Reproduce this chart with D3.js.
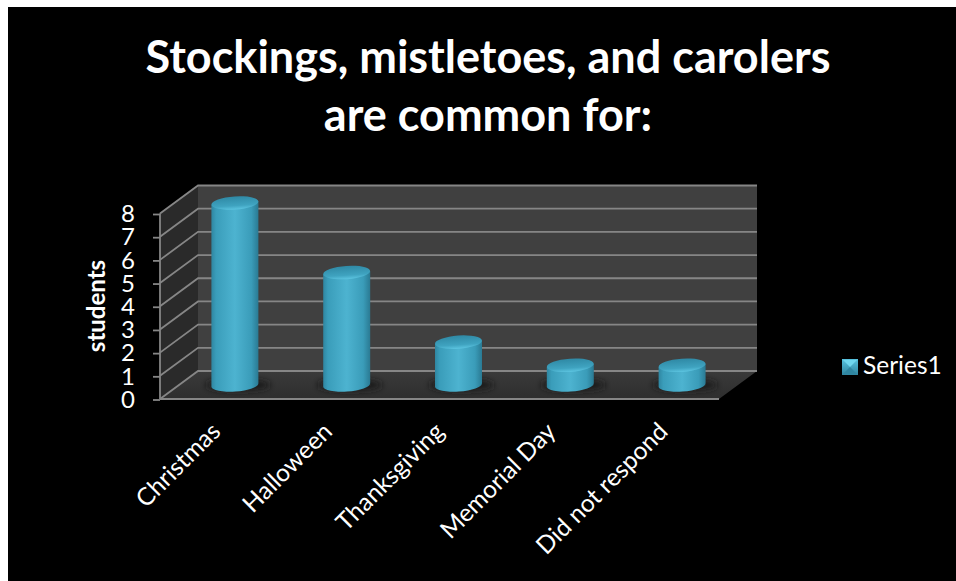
<!DOCTYPE html>
<html><head><meta charset="utf-8">
<script src="https://cdn.jsdelivr.net/npm/d3@7"></script>
<style>html,body{margin:0;padding:0;background:#fff}svg{display:block}text{font-family:Lato,"Open Sans",sans-serif}</style>
</head><body><svg id="c" width="956" height="581"></svg>
<script>
const titleLines = ["Stockings, mistletoes, and carolers", "are common for:"];
const categories = ["Christmas", "Halloween", "Thanksgiving", "Memorial Day", "Did not respond"];
const values = [8, 5, 2, 1, 1];
const yTicks = [0, 1, 2, 3, 4, 5, 6, 7, 8];
const yTitle = "students";
const seriesName = "Series1";

const svg = d3.select("#c");
const defs = svg.append("defs");
const body = defs.append("linearGradient").attr("id", "body");
[[0,"#2f86a1"],[.1,"#3a9dba"],[.5,"#4db3d0"],[.85,"#3a9cb9"],[1,"#2a7a93"]]
  .forEach(([o,c]) => body.append("stop").attr("offset", o).attr("stop-color", c));
const cap = defs.append("linearGradient").attr("id", "cap").attr("x1",0).attr("x2",0).attr("y1",0).attr("y2",1);
[[0,"#2f89a5"],[.7,"#3fa3c0"],[1,"#5cc4e0"]].forEach(([o,c]) => cap.append("stop").attr("offset", o).attr("stop-color", c));
const fl = defs.append("linearGradient").attr("id", "floor").attr("x1",0).attr("x2",0).attr("y1",0).attr("y2",1);
[[0,"#3a3a3a"],[1,"#2e2e2e"]].forEach(([o,c]) => fl.append("stop").attr("offset", o).attr("stop-color", c));
defs.append("filter").attr("id", "blur").attr("x","-30%").attr("y","-100%").attr("width","160%").attr("height","300%")
  .append("feGaussianBlur").attr("stdDeviation", 3);
const lg = defs.append("linearGradient").attr("id", "lg").attr("x1",0).attr("x2",0).attr("y1",0).attr("y2",1);
[[0,"#58c3df"],[1,"#2f85a0"]].forEach(([o,c]) => lg.append("stop").attr("offset", o).attr("stop-color", c));

svg.append("rect").attr("x", 8).attr("y", 7).attr("width", 948).attr("height", 574).attr("fill", "#000");

svg.append("g").selectAll("text").data(titleLines).join("text")
  .attr("x", 488).attr("y", (d, i) => 73 + i * 58).attr("text-anchor", "middle")
  .attr("font-size", 45).attr("font-weight", 700).attr("fill", "#fff").text(d => d);

const x0 = 160, x1 = 719, dx = 38, dy = -28;
const x = d3.scaleBand().domain(categories).range([x0 + 19, x1 + 19]);
const y = d3.scaleLinear().domain([0, 8]).range([399, 213.5]);
const yb = 399, yt = y(8);

// walls
svg.append("path").attr("fill", "#2a2a2a")
  .attr("d", d3.line()([[x0,yb],[x0+dx,yb+dy],[x0+dx,yt+dy],[x0,yt]]));
svg.append("rect").attr("x", x0+dx).attr("y", yt+dy).attr("width", x1-x0).attr("height", yb-yt).attr("fill", "#404040");
svg.append("path").attr("fill", "url(#floor)")
  .attr("d", d3.line()([[x0,yb],[x0+dx,yb+dy],[x1+dx,yb+dy],[x1,yb]]));

// gridlines
const grid = svg.append("g").attr("fill","none").attr("stroke","#868686").attr("stroke-width",1.8);
grid.selectAll("path").data(yTicks).join("path")
  .attr("d", t => d3.line()([[x0,y(t)],[x0+dx,y(t)+dy],[x1+dx,y(t)+dy]]));
grid.append("path").attr("d", d3.line()([[x0,yb],[x1,yb]]));
grid.append("path").attr("d", d3.line()([[x0,yb],[x0,yt]]));

// y axis
const ax = svg.append("g").attr("transform", `translate(${x0},0.5)`)
  .call(d3.axisLeft(y).tickValues(yTicks).tickFormat(d3.format("d")).tickSize(7).tickPadding(18));
ax.select(".domain").remove();
ax.selectAll("line").attr("stroke","#868686").attr("stroke-width",1.8);
ax.selectAll("text").attr("font-size",24).attr("fill","#fff").style("font-family","Lato");

svg.append("text").attr("transform","translate(105,306) rotate(-90)").attr("text-anchor","middle")
  .attr("font-size",24).attr("font-weight",700).attr("fill","#fff").text(yTitle);

// cylinders
const rx = 23.5, ry = 6.6, tilt = -4;
const bars = svg.append("g").selectAll("g").data(values).join("g")
  .attr("transform", (d,i) => `translate(${x(categories[i]) + x.bandwidth()/2},0)`);
bars.append("ellipse").attr("cx", 3).attr("cy", yb-14).attr("rx", rx+9).attr("ry", 6)
  .attr("fill","#1a1a1a").attr("filter","url(#blur)");
bars.append("path").attr("fill","url(#body)").attr("d", d => {
  const top = y(d) - 10.5, base = yb - 14, a = Math.tan(tilt*Math.PI/180)*rx;
  return `M${-rx},${top-a}L${-rx},${base-a}A${rx},${ry} ${tilt} 0 0 ${rx},${base+a}L${rx},${top+a}Z`;
});
bars.append("ellipse").attr("cy", d => y(d) - 10.5).attr("rx", rx).attr("ry", ry)
  .attr("transform", d => `rotate(${tilt} 0 ${y(d)-10.5})`).attr("fill","url(#cap)");

// category labels
svg.append("g").selectAll("text").data(categories).join("text")
  .attr("transform", d => `translate(${x(d)+x.bandwidth()/2-13},433) rotate(-45)`)
  .attr("text-anchor","end").attr("font-size",24.5).attr("fill","#fff").text(d => d);

// legend
const L = svg.append("g").attr("transform","translate(842,359)");
L.append("rect").attr("width",16).attr("height",16).attr("fill","url(#lg)");
L.append("path").attr("d","M1,1H15L8,8Z").attr("fill","#6fd6ee");
L.append("path").attr("d","M1,15H15L8,8Z").attr("fill","#2f86a1");
L.append("text").attr("x",21).attr("y",15).attr("font-size",24.5).attr("fill","#fff").text(seriesName);
</script></body></html>
